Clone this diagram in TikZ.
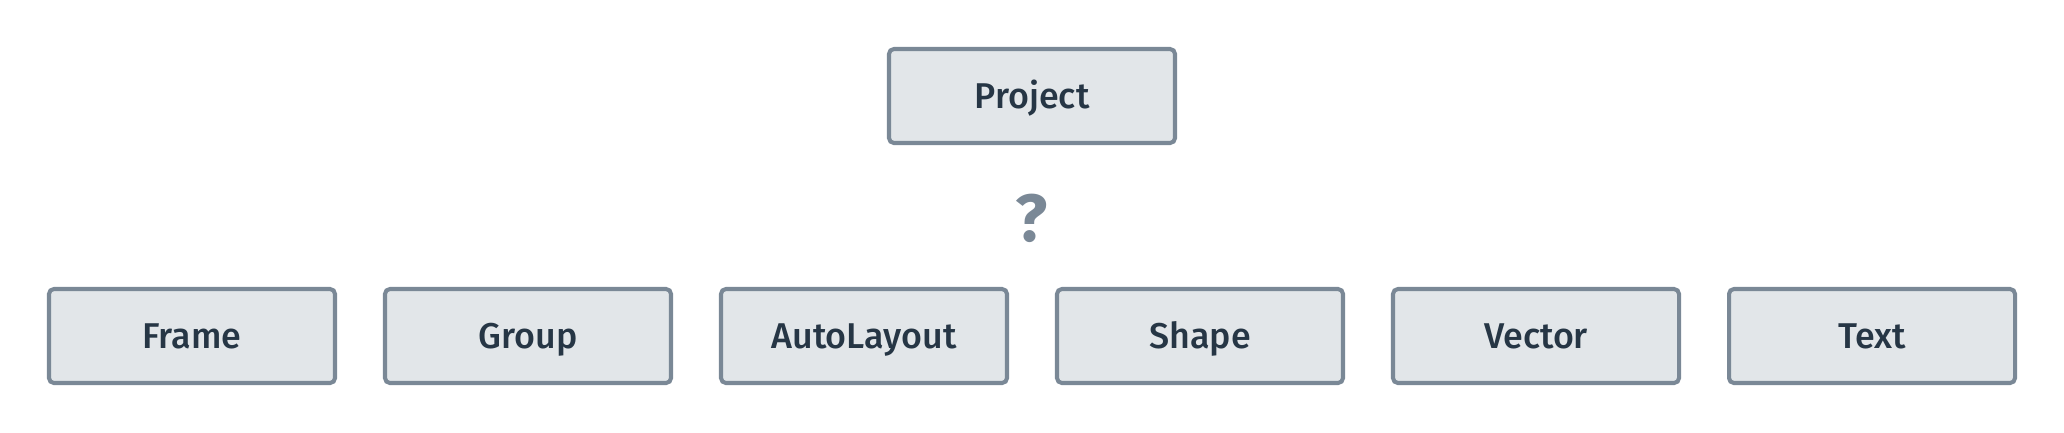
\documentclass[tikz,border=0pt]{standalone}
\usepackage{fontspec}
\setmainfont{Fira Sans}[UprightFont = * Medium, BoldFont = * Bold]
\definecolor{boxline}{HTML}{7A8896}
\definecolor{boxfill}{HTML}{E2E6E9}
\definecolor{boxtext}{HTML}{263645}
\tikzset{
	typebox/.style = {draw = boxline, fill = boxfill, line width = 1.15pt, rounded corners = 1.4pt,
		minimum width = 2.86cm, minimum height = 0.94cm, inner sep = 0pt,
		text height = 0.69em, text depth = 0pt,
		text = boxtext, font = \fontsize{10.2}{12}\selectfont},
}
\begin{document}
\begin{tikzpicture}
		\useasboundingbox (0,0) rectangle (20.64,-4.32);
		%
		\node[typebox] (project) at (10.32,-0.96) {Project};
		\node[text = boxline, inner sep = 0pt, font = \fontsize{19}{22}\selectfont\bfseries] (unknown) at (10.32,-2.18) {?};
		%
		\node[typebox] (frame) at (1.92,-3.36) {Frame};
		\node[typebox] (group) at (5.28,-3.36) {Group};
		\node[typebox] (autolayout) at (8.64,-3.36) {AutoLayout};
		\node[typebox] (shape) at (12.00,-3.36) {Shape};
		\node[typebox] (vector) at (15.36,-3.36) {Vector};
		\node[typebox] (text) at (18.72,-3.36) {Text};
		%
	\end{tikzpicture}
\end{document}
